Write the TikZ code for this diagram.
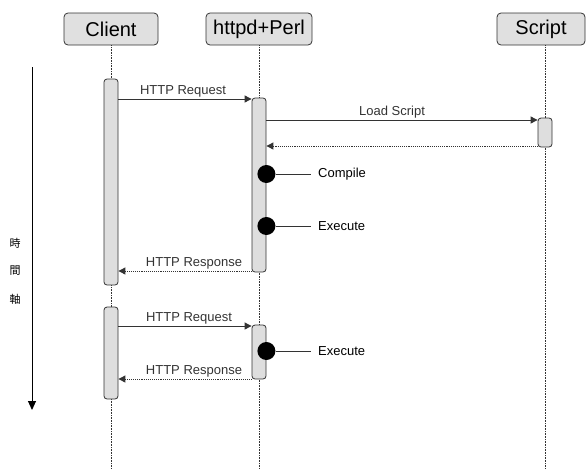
\documentclass[tikz,border=0pt]{standalone}
\usepackage{fontspec}
\setmainfont{Liberation Sans}
\newfontfamily\jpfont{Noto Sans CJK JP}
\usetikzlibrary{arrows.meta}

\begin{document}
\begin{tikzpicture}[x=1pt, y=-1pt,
    head/.style={draw=black!80, line width=0.8pt, fill=black!12, rounded corners=4pt, minimum width=#1,
      minimum height=32pt, inner sep=0pt, font=\fontsize{20}{20}\selectfont},
    bar/.style={draw=black!80, line width=0.8pt, fill=black!13, rounded corners=3pt, minimum width=14pt,
      minimum height=#1, inner sep=0pt},
    life/.style={densely dotted, black!80, line width=0.6pt},
    msg/.style={-{Triangle[length=7pt, width=7pt]}, black!80, line width=0.9pt},
    ret/.style={msg, densely dotted},
    lbl/.style={inner sep=1pt, font=\fontsize{13}{13}\selectfont},
    evt/.style={circle, fill=black, inner sep=0pt, minimum size=18pt}]
    \useasboundingbox (0,0) rectangle (586,469);
    \node[head=94pt] (client) at (111,29) {Client};
    \node[head=106pt] (httpd) at (259,29) {httpd+Perl};
    \node[head=88pt] (script) at (541,29) {Script};
    \coordinate (cbot) at (111,469);
    \coordinate (hbot) at (259,469);
    \coordinate (sbot) at (545,469);
    \draw[life] (client.south) -- (cbot);
    \draw[life] (httpd.south) -- (hbot);
    \draw[life] (script.south -| sbot) -- (sbot);
    \node[bar=206pt] (c1) at (111,182) {};
    \node[bar=92pt] (c2) at (111,353) {};
    \node[bar=174pt] (h1) at (259,185) {};
    \node[bar=54pt] (h2) at (259,352) {};
    \node[bar=29pt] (s1) at (545,132.5) {};
    \draw[msg] (c1.east |- 0,99) -- node[lbl, above, xshift=-2pt] {HTTP Request} (h1.west |- 0,99);
    \draw[msg] (h1.east |- 0,120) -- node[lbl, above, xshift=-10pt] {Load Script} (s1.west |- 0,120);
    \draw[ret] (s1.west |- 0,146) -- (h1.east |- 0,146);
    \node[evt] (comp) at (h1.east |- 0,174) {};
    \node[lbl, anchor=west] (complbl) at (317,174) {Compile};
    \draw[black!80, line width=0.9pt, shorten >=6pt] (comp) -- (complbl.west);
    \node[evt] (exec1) at (h1.east |- 0,226) {};
    \node[lbl, anchor=west] (exec1lbl) at (317,226) {Execute};
    \draw[black!80, line width=0.9pt, shorten >=6pt] (exec1) -- (exec1lbl.west);
    \draw[ret] (h1.west |- 0,271) -- node[lbl, above, xshift=9pt] {HTTP Response} (c1.east |- 0,271);
    \draw[msg] (c2.east |- 0,326) -- node[lbl, above, xshift=4pt] {HTTP Request} (h2.west |- 0,326);
    \node[evt] (exec2) at (h2.east |- 0,351) {};
    \node[lbl, anchor=west] (exec2lbl) at (317,351) {Execute};
    \draw[black!80, line width=0.9pt, shorten >=6pt] (exec2) -- (exec2lbl.west);
    \draw[ret] (h2.west |- 0,379) -- node[lbl, above, xshift=9pt] {HTTP Response} (c2.east |- 0,379);
    \coordinate (tstart) at (32,67);
    \coordinate (tend) at (32,410);
    \draw[-{Triangle[length=9pt, width=8pt]}, line width=1pt] (tstart) -- (tend);
    \node[font=\jpfont\fontsize{11}{11}\selectfont] (t1) at (15,243) {時};
    \node[font=\jpfont\fontsize{11}{11}\selectfont] (t2) at (15,271) {間};
    \node[font=\jpfont\fontsize{11}{11}\selectfont] (t3) at (15,299) {軸};
  \end{tikzpicture}
\end{document}
